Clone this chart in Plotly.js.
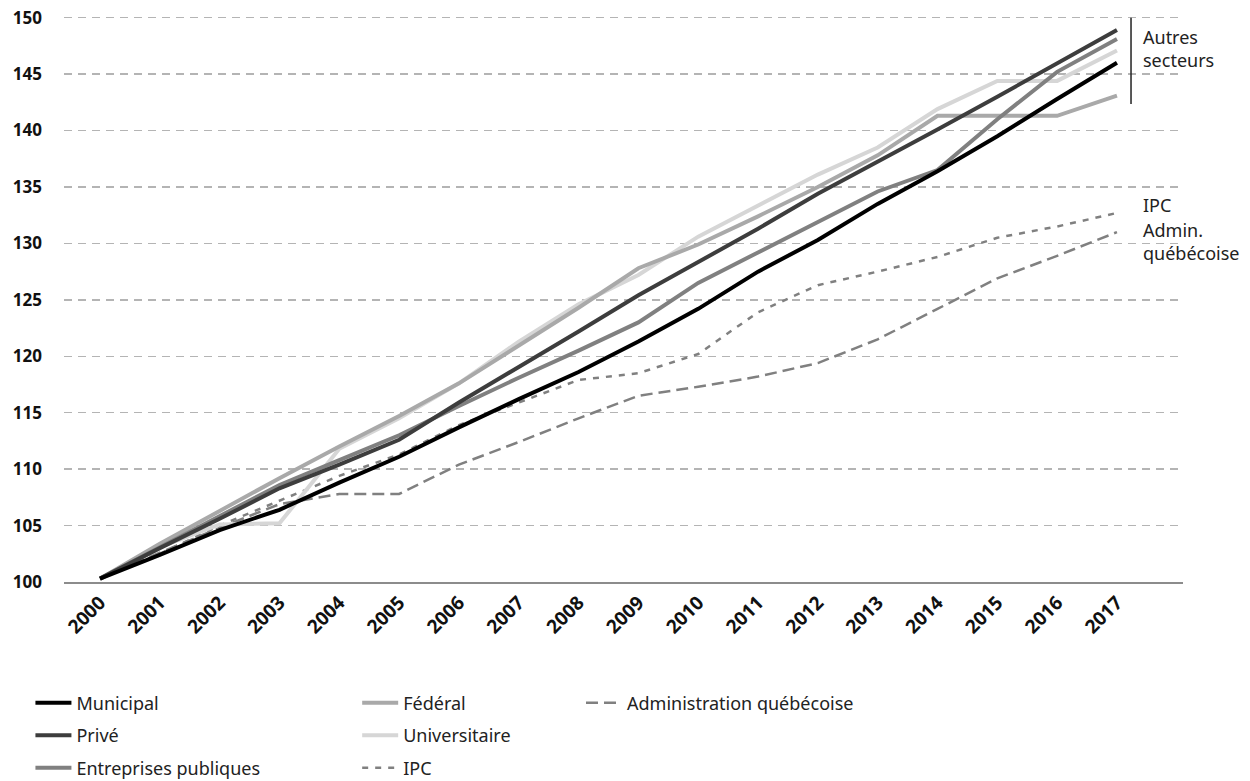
<!DOCTYPE html>
<html>
<head>
<meta charset="utf-8">
<script src="https://cdn.plot.ly/plotly-3.0.1.min.js"></script>
<style>
  html, body { margin: 0; padding: 0; background: #ffffff; }
  #chart { width: 1250px; height: 781px; }
</style>
</head>
<body>
<div id="chart"></div>
<script>
const years = [2000, 2001, 2002, 2003, 2004, 2005, 2006, 2007, 2008, 2009, 2010, 2011, 2012, 2013, 2014, 2015, 2016, 2017];
const yearLabels = years.map(String);

const municipal     = [100.3, 102.4, 104.6, 106.4, 108.8, 111.1, 113.7, 116.2, 118.6, 121.3, 124.2, 127.5, 130.3, 133.5, 136.4, 139.5, 142.8, 146.0];
const prive         = [100.3, 103.0, 105.6, 108.3, 110.4, 112.6, 115.9, 119.0, 122.2, 125.4, 128.3, 131.3, 134.4, 137.2, 140.1, 143.0, 146.0, 148.9];
const entreprises   = [100.3, 103.1, 105.8, 108.6, 110.8, 113.0, 115.6, 118.1, 120.5, 123.0, 126.5, 129.2, 131.9, 134.6, 136.5, 141.0, 145.2, 148.1];
const federal       = [100.3, 103.4, 106.3, 109.2, 112.0, 114.7, 117.6, 120.9, 124.3, 127.8, 129.9, 132.4, 135.0, 137.8, 141.3, 141.3, 141.3, 143.1];
const universitaire = [100.3, 103.1, 105.1, 105.2, 111.8, 114.5, 117.6, 121.3, 124.6, 127.2, 130.6, 133.4, 136.1, 138.5, 141.9, 144.4, 144.4, 147.1];
const ipc           = [100.3, 102.5, 105.0, 107.2, 109.4, 111.3, 113.9, 115.9, 117.9, 118.5, 120.2, 123.9, 126.3, 127.5, 128.8, 130.5, 131.5, 132.7];
const admin         = [100.3, 102.6, 104.8, 106.9, 107.8, 107.8, 110.4, 112.4, 114.5, 116.5, 117.3, 118.2, 119.4, 121.5, 124.2, 126.9, 128.9, 131.0];

const yTicks = [100, 105, 110, 115, 120, 125, 130, 135, 140, 145, 150];

const FONT = '"Noto Sans", "Open Sans", sans-serif';

function solid(name, y, color, legend, rank) {
  return {
    type: 'scatter', mode: 'lines', name: name, x: years, y: y,
    line: { color: color, width: 4 },
    legend: legend, legendrank: rank, legendgroup: name,
    hoverinfo: 'skip'
  };
}
function dashed(name, y, dash, legend, rank) {
  return {
    type: 'scatter', mode: 'lines', name: name, x: years, y: y,
    line: { color: '#808080', width: 2.5, dash: dash },
    legend: legend, legendrank: rank, legendgroup: name,
    hoverinfo: 'skip'
  };
}

const traces = [
  dashed('Administration québécoise', admin, '12px,6px', 'legend3', 1),
  dashed('IPC', ipc, '6px,7px', 'legend2', 3),
  solid('Universitaire', universitaire, '#d6d6d6', 'legend2', 2),
  solid('Fédéral', federal, '#a9a9a9', 'legend2', 1),
  solid('Entreprises publiques', entreprises, '#808080', 'legend', 3),
  solid('Privé', prive, '#3d3d3d', 'legend', 2),
  solid('Municipal', municipal, '#000000', 'legend', 1)
];

const legendCommon = {
  orientation: 'v', xanchor: 'left', yanchor: 'top', y: -0.1795,
  font: { family: FONT, size: 18, color: '#222222' },
  tracegroupgap: 6, itemwidth: 36, bgcolor: 'rgba(0,0,0,0)', traceorder: 'grouped'
};

const layout = {
  width: 1250, height: 781,
  margin: { l: 64, r: 67, t: 10, b: 199, autoexpand: false },
  paper_bgcolor: '#ffffff', plot_bgcolor: '#ffffff',
  font: { family: FONT, size: 16, color: '#111111' },
  showlegend: true,
  legend:  Object.assign({}, legendCommon, { x: -0.030 }),
  legend2: Object.assign({}, legendCommon, { x: 0.262 }),
  legend3: Object.assign({}, legendCommon, { x: 0.462 }),
  xaxis: {
    range: [1999.398, 2018.104],
    tickmode: 'array', tickvals: years, ticktext: yearLabels,
    tickangle: -45,
    tickfont: { family: FONT, size: 19, color: '#111111', weight: 'bold' },
    showgrid: false, zeroline: false,
    showline: true, linecolor: '#8c8c8c', linewidth: 2,
    ticks: '', fixedrange: true
  },
  yaxis: {
    range: [100, 150.68],
    tickmode: 'array', tickvals: yTicks, ticktext: yTicks.map(String),
    tickfont: { family: FONT, size: 17, color: '#111111', weight: 'bold' },
    showgrid: true, gridcolor: '#b4b4b4', gridwidth: 1.5, griddash: '8px,6px',
    zeroline: false, showline: false, ticks: '',
    ticklabelstandoff: 21, fixedrange: true
  },
  shapes: [
    { type: 'line', xref: 'x', yref: 'y', x0: 2017.235, x1: 2017.235, y0: 142.35, y1: 150,
      line: { color: '#222222', width: 1.5 } }
  ],
  annotations: [
    { xref: 'x', yref: 'y', x: 2017.40, y: 147.3, xanchor: 'left', yanchor: 'middle', align: 'left',
      text: 'Autres<br>secteurs', showarrow: false,
      font: { family: FONT, size: 18, color: '#222222' } },
    { xref: 'x', yref: 'y', x: 2017.40, y: 133.4, xanchor: 'left', yanchor: 'middle', align: 'left',
      text: 'IPC', showarrow: false,
      font: { family: FONT, size: 18, color: '#222222' } },
    { xref: 'x', yref: 'y', x: 2017.40, y: 130.2, xanchor: 'left', yanchor: 'middle', align: 'left',
      text: 'Admin.<br>québécoise', showarrow: false,
      font: { family: FONT, size: 18, color: '#222222' } }
  ]
};

Plotly.newPlot('chart', traces, layout, { staticPlot: true, displayModeBar: false });
</script>
</body>
</html>
